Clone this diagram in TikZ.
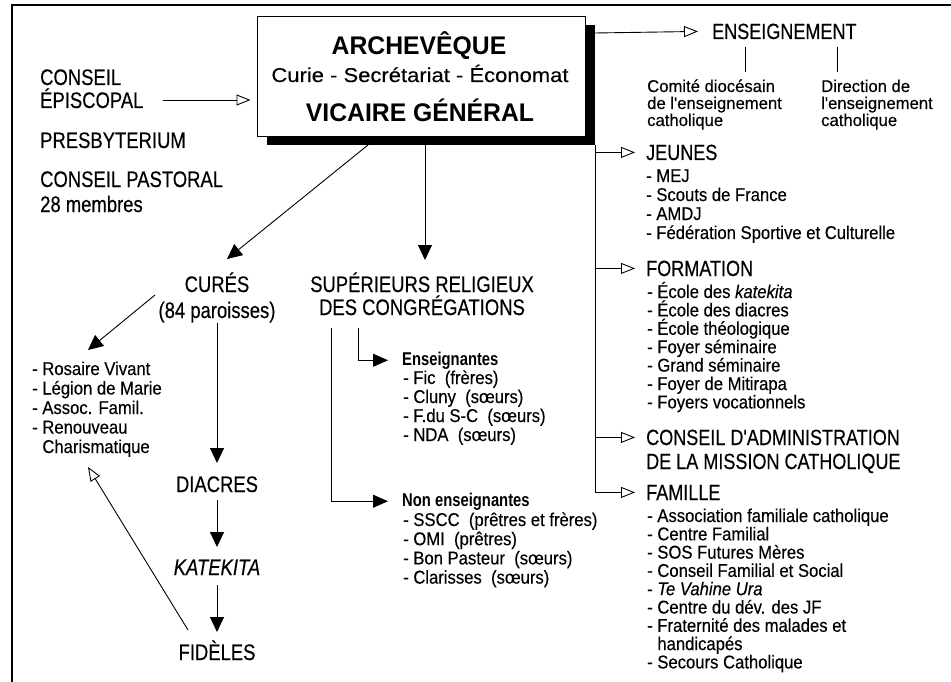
\documentclass[tikz,border=0pt]{standalone}
\usepackage{fontspec}
\setmainfont{Liberation Sans}
\newfontfamily\capfont{Liberation Sans}[FakeStretch=0.82, FakeBold=0.3]
\newfontfamily\itemfont{Liberation Sans}[FakeStretch=0.9, FakeBold=0.3]
\newfontfamily\comfont{Liberation Sans}[FakeStretch=0.98, FakeBold=0.3]
\newfontfamily\itembf{Liberation Sans}[FakeStretch=0.8]
\newfontfamily\boxbf{Liberation Sans}[FakeStretch=0.97]
\newfontfamily\boxrm{Liberation Sans}[FakeStretch=1.1, FakeBold=0.3]
\usetikzlibrary{arrows.meta}
\tikzset{
  lbl/.style={inner sep=0pt, anchor=base, font=\capfont\fontsize{22.5}{26}\selectfont},
  lblw/.style={inner sep=0pt, anchor=base west, font=\capfont\fontsize{22.5}{26}\selectfont},
  headw/.style={inner sep=0pt, anchor=base west, font=\capfont\fontsize{22}{26}\selectfont},
  itm/.style={inner sep=0pt, anchor=base west, text height=12.5pt, text depth=3.5pt, font=\itemfont\fontsize{18.5}{20}\selectfont},
  comit/.style={inner sep=0pt, anchor=base west, text height=12pt, text depth=3pt, font=\comfont\fontsize{17}{17}\selectfont},
  itmbf/.style={inner sep=0pt, anchor=base west, font=\itembf\bfseries\fontsize{18.5}{20}\selectfont},
  conn/.style={line width=0.9pt},
  openarr/.style={conn, -{Triangle[open, length=14pt, width=11pt, line width=0.9pt]}},
  fillarr/.style={conn, -{Triangle[length=15pt, width=14pt]}},
}
\begin{document}
\begin{tikzpicture}[x=1pt,y=-1pt]
\useasboundingbox (0,0) rectangle (951,682);
% frame
\draw[line width=1.2pt] (12,682) -- (12,5) -- (951,5);

% main box
\node[fill=black, minimum width=328pt, minimum height=120pt, inner sep=0pt] (shadow) at (431,85) {};
\node[draw, fill=white, line width=1pt, minimum width=328pt, minimum height=120pt, inner sep=0pt] (arch) at (421,77) {};
\node[inner sep=0pt, anchor=base, font=\boxbf\bfseries\fontsize{25.5}{30}\selectfont] (t1) at (419,55) {ARCHEVÊQUE};
\node[inner sep=0pt, anchor=base, font=\boxrm\fontsize{20}{24}\selectfont] (t2) at (420,82) {Curie - Secrétariat - Économat};
\node[inner sep=0pt, anchor=base, font=\boxbf\bfseries\fontsize{25.5}{30}\selectfont] (t3) at (420,122) {VICAIRE GÉNÉRAL};

% left labels
\node[lblw] (cons1) at (40,85) {CONSEIL};
\node[lblw] (cons2) at (40,108) {ÉPISCOPAL};
\node[lblw] (presb) at (40,148) {PRESBYTERIUM};
\node[lblw] (past) at (40,187) {CONSEIL PASTORAL};
\node[lblw] (memb) at (40,212) {28 membres};
\coordinate (epiA) at (163,100);
\draw[openarr, shorten >=6pt] (epiA) -- (arch.west |- epiA);

% right side headings
\node[headw] (ens) at (712,39) {ENSEIGNEMENT};
\coordinate (ensA) at (595,33);
\draw[openarr] (ensA) -- ([xshift=-14pt]ens.west);
\coordinate (tkA1) at (745,47); \coordinate (tkA2) at (745,72);
\coordinate (tkB1) at (837,47); \coordinate (tkB2) at (837,72);
\draw[conn] (tkA1) -- (tkA2);
\draw[conn] (tkB1) -- (tkB2);
\foreach \t [count=\i] in {Comité diocésain, de l'enseignement, catholique}
  \node[comit] (com\i) at (647,{92+17*(\i-1)}) {\t};
\foreach \t [count=\i] in {Direction de, l'enseignement, catholique}
  \node[comit] (dir\i) at (821,{92+17*(\i-1)}) {\t};

\node[headw] (jeu) at (646,160) {JEUNES};
\foreach \t [count=\i] in {- MEJ, - Scouts de France, - AMDJ, - Fédération Sportive et Culturelle}
  \node[itm] (jeu\i) at (646,{182+19*(\i-1)}) {\t};

\node[headw] (form) at (646,276) {FORMATION};
\foreach \t [count=\i] in {- École des \textit{katekita}, - École des diacres, - École théologique, - Foyer séminaire, - Grand séminaire, - Foyer de Mitirapa, - Foyers vocationnels}
  \node[itm] (form\i) at (647,{298+18.4*(\i-1)}) {\t};

\node[headw] (cda) at (646,445) {CONSEIL D'ADMINISTRATION};
\node[headw] (cdb) at (646,469) {DE LA MISSION CATHOLIQUE};

\node[headw] (fam) at (646,500) {FAMILLE};
\foreach \t [count=\i] in {- Association familiale catholique, - Centre Familial, - SOS Futures Mères, - Conseil Familial et Social, - \textit{Te Vahine Ura}, - Centre du dév. des JF, - Fraternité des malades et, \phantom{- }handicapés, - Secours Catholique}
  \node[itm] (fam\i) at (647,{522+18.3*(\i-1)}) {\t};

% trunk and branches
\draw[openarr] (shadow.south east) |- ([xshift=-11pt]fam.west);
\draw[openarr] (shadow.east |- jeu.west) -- ([xshift=-11pt]jeu.west);
\draw[openarr] (shadow.east |- form.west) -- ([xshift=-11pt]form.west);
\draw[openarr] (shadow.east |- cda.west) -- ([xshift=-11pt]cda.west);

% centre column
\node[lbl] (cur) at (217,292) {CURÉS};
\node[lbl] (par) at (217,318) {(84 paroisses)};
\node[lbl] (dia) at (217,492) {DIACRES};
\node[lbl] (kat) at (217,575) {\itshape KATEKITA};
\node[lbl] (fid) at (217,660) {FIDÈLES};

\coordinate (cA) at (368,145); \coordinate (cB) at (227,259);
\draw[fillarr] (cA) -- (cB);
\coordinate (lA) at (155,295); \coordinate (lB) at (88,350);
\draw[fillarr] (lA) -- (lB);
\draw[fillarr] (217,323) -- (217,463);
\draw[fillarr] ([yshift=-8pt]dia.base) -- ([yshift=-55pt]dia.base);
\draw[fillarr] ([yshift=-10pt]kat.base) -- ([yshift=-57pt]kat.base);

% left list
\foreach \t [count=\i] in {- Rosaire Vivant, - Légion de Marie, - Assoc. Famil., - Renouveau, \phantom{- }Charismatique}
  \node[itm] (grp\i) at (32,{375+19.5*(\i-1)}) {\t};
\coordinate (fA) at (188,630); \coordinate (fB) at (88,467);
\draw[openarr] (fA) -- (fB);

% superieurs
\node[lbl] (sup1) at (422,292) {SUPÉRIEURS RELIGIEUX};
\node[lbl] (sup2) at (422,315) {DES CONGRÉGATIONS};
\coordinate (sA) at (425,145);
\draw[fillarr] (sA) -- (425,260);

\node[itmbf] (ens0) at (402,365) {Enseignantes};
\foreach \t [count=\i] in {- Fic~ (frères), - Cluny~ (sœurs), - F.du S-C~ (sœurs), - NDA~ (sœurs)}
  \node[itm] (ensg\i) at (403,{384+19*(\i-1)}) {\t};
\node[itmbf] (non0) at (402,506) {Non enseignantes};
\foreach \t [count=\i] in {- SSCC~ (prêtres et frères), - OMI~ (prêtres), - Bon Pasteur~ (sœurs), - Clarisses~ (sœurs)}
  \node[itm] (non\i) at (403,{526+19.2*(\i-1)}) {\t};

\coordinate (bA) at (358,328); \coordinate (bB) at (331,328);
\draw[fillarr, -{Triangle[length=15pt, width=13pt]}] (bA) |- ([xshift=-14pt]ens0.west);
\draw[fillarr, -{Triangle[length=15pt, width=13pt]}] (bB) |- ([xshift=-14pt]non0.west);
\end{tikzpicture}
\end{document}
